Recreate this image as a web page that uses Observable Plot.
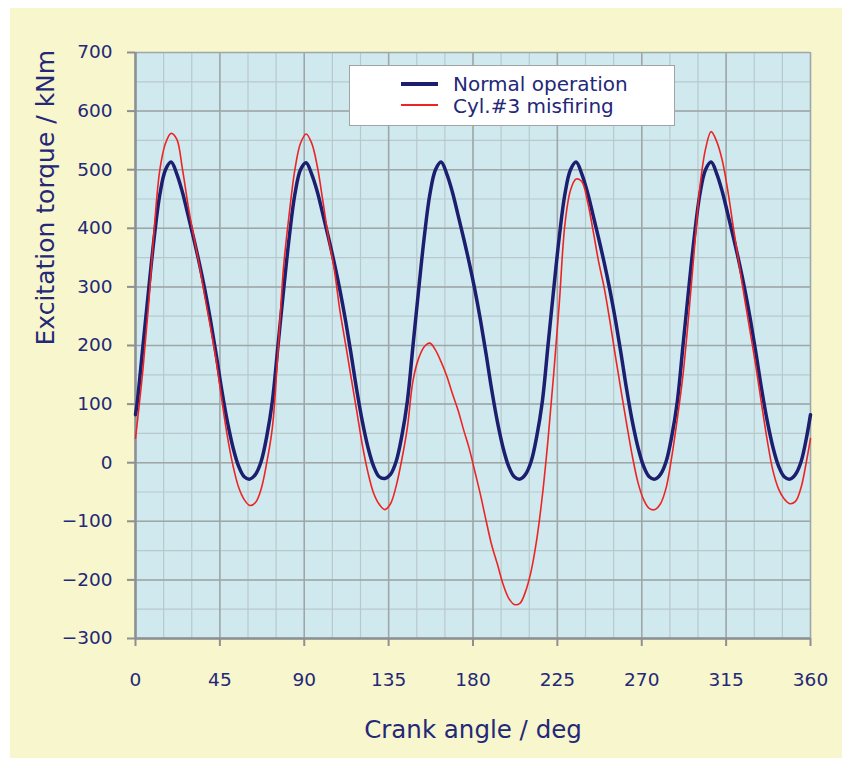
<!DOCTYPE html>
<html>
<head>
<meta charset="utf-8">
<script src="https://cdn.jsdelivr.net/npm/d3@7"></script>
<script src="https://cdn.jsdelivr.net/npm/@observablehq/plot@0.6"></script>
<style>
  html, body { margin: 0; padding: 0; background: #ffffff; }
  #wrap { position: absolute; left: 10px; top: 8px; width: 832px; height: 750px; }
  #legend {
    position: absolute; left: 339px; top: 57px; width: 324px; height: 59px;
    background: #ffffff; border: 1px solid #a0a4a6;
    font-family: "DejaVu Sans", sans-serif; font-size: 20px; color: #232878;
  }
  #legend .sw { position: absolute; left: 51px; width: 37px; }
  #legend .lb { position: absolute; left: 103px; line-height: 20px; white-space: nowrap; }
</style>
</head>
<body>
<div id="wrap"></div>
<script>
// Crank angles (deg) at which both curves were read
const angles = [0, ...d3.range(1, 359, 3), 360];

// Normal operation (kNm)
const normal = [82,
  105,200,295,385,458,500,513,493,462,423,383,341,295,243,185,124,70,26,-6,-24,-28,-20,2,45,
  105,200,295,385,458,500,512,492,462,423,383,341,295,243,185,124,70,26,-6,-24,-27,-20,2,45,
  105,200,295,385,458,500,513,493,462,423,383,341,295,243,185,124,70,26,-6,-24,-28,-20,2,45,
  105,200,295,385,458,500,513,493,462,423,383,341,295,243,185,124,70,26,-6,-24,-28,-20,2,45,
  105,200,295,385,458,500,513,493,462,423,383,341,295,243,185,124,70,26,-6,-24,-28,-20,2,45,
  82];

// Cyl.#3 misfiring (kNm)
const misfire = [42,
  70,160,270,400,500,545,562,552,502,440,387,338,283,231,175,108,45,-5,-42,-63,-73,-68,-45,0,
  60,190,335,425,500,545,561,545,505,445,382,330,260,203,145,88,30,-17,-52,-71,-80,-70,-40,5,
  60,140,178,198,204,192,172,148,118,90,56,24,-15,-55,-99,-141,-173,-207,-231,-242,-240,-220,-185,-131,
  -56,39,150,271,406,465,484,480,447,397,343,298,242,181,122,65,11,-34,-63,-78,-80,-70,-43,10,
  76,150,250,362,470,535,565,548,515,462,398,337,277,220,162,98,37,-14,-45,-62,-70,-66,-42,5,
  41];

const seriesNames = ["Normal operation", "Cyl.#3 misfiring"];
const xMajor = [0, 45, 90, 135, 180, 225, 270, 315, 360];
const xMinor = d3.range(0, 361, 15);
const yMajor = [-300, -200, -100, 0, 100, 200, 300, 400, 500, 600, 700];
const yMinor = d3.range(-300, 701, 50);

const navy = "#232878";
const tableN = angles.map((a, i) => ({angle: a, torque: normal[i]}));
const tableM = angles.map((a, i) => ({angle: a, torque: misfire[i]}));

const chart = Plot.plot({
  width: 832,
  height: 750,
  marginLeft: 125,
  marginRight: 32,
  marginTop: 44,
  marginBottom: 120,
  style: {background: "#f7f6cc", fontFamily: "DejaVu Sans, sans-serif", color: navy, overflow: "visible"},
  x: {domain: [0, 360]},
  y: {domain: [-300, 700]},
  marks: [
    Plot.frame({fill: "#cfe9ee", stroke: null}),
    Plot.ruleX(xMinor, {stroke: "#b9c9cb", strokeWidth: 1.2}),
    Plot.ruleY(yMinor, {stroke: "#b9c9cb", strokeWidth: 1.2}),
    Plot.ruleX(xMajor, {stroke: "#9ea6a8", strokeWidth: 1.5}),
    Plot.ruleY(yMajor, {stroke: "#9ea6a8", strokeWidth: 1.5}),
    Plot.axisX({ticks: xMajor, tickSize: 8, tickPadding: 26, stroke: "#8c9092", strokeWidth: 2, fill: navy, fontSize: 18.5, label: null}),
    Plot.axisY({ticks: yMajor, tickSize: 8, tickPadding: 15, stroke: "#8c9092", strokeWidth: 2, fill: navy, fontSize: 18.5, label: null}),
    Plot.ruleX([0], {stroke: "#8c9092", strokeWidth: 2.5}),
    Plot.ruleY([-300], {stroke: "#8c9092", strokeWidth: 2.5}),
    Plot.line(tableN, {x: "angle", y: "torque", stroke: "#1c1f6f", strokeWidth: 3.5, curve: "catmull-rom"}),
    Plot.line(tableM, {x: "angle", y: "torque", stroke: "#ee2424", strokeWidth: 1.6, curve: "catmull-rom"}),
    Plot.text(["Crank angle / deg"], {text: d => d, frameAnchor: "bottom", dy: 92, fontSize: 24.5, fill: navy, lineAnchor: "middle"}),
    Plot.text(["Excitation torque / kNm"], {text: d => d, frameAnchor: "left", dx: -90, rotate: -90, fontSize: 25, fill: navy, lineAnchor: "middle"})
  ]
});

const wrap = document.getElementById("wrap");
wrap.appendChild(chart);

const legend = document.createElement("div");
legend.id = "legend";
legend.innerHTML =
  `<div class="sw" style="top:16px;height:3.5px;background:#1c1f6f"></div>` +
  `<div class="lb" style="top:8px">${seriesNames[0]}</div>` +
  `<div class="sw" style="top:38px;height:2px;background:#ee2424"></div>` +
  `<div class="lb" style="top:30px">${seriesNames[1]}</div>`;
wrap.appendChild(legend);
</script>
</body>
</html>
